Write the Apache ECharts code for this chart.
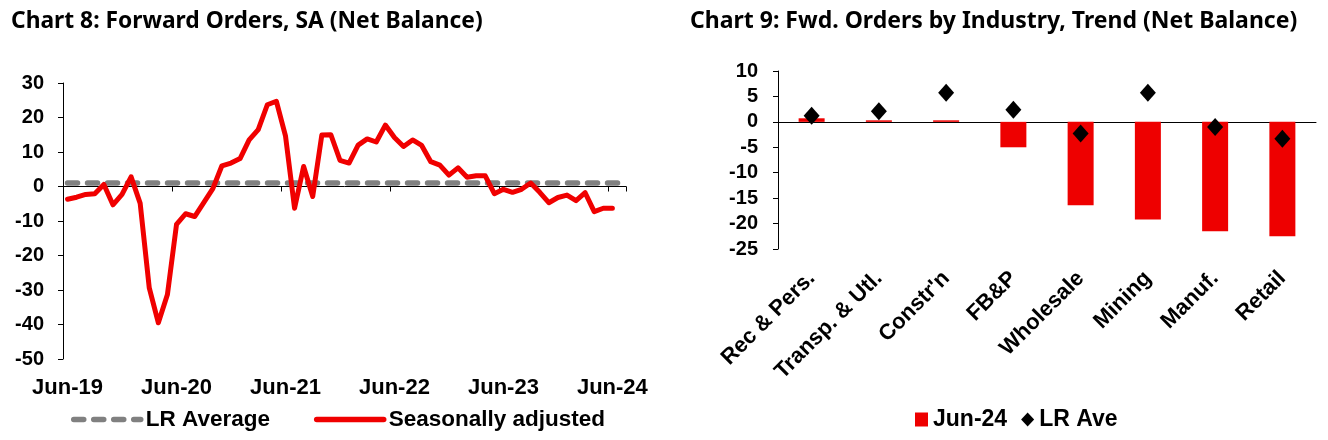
<!DOCTYPE html>
<html>
<head>
<meta charset="utf-8">
<script src="https://cdn.jsdelivr.net/npm/echarts@6/dist/echarts.min.js"></script>
<style>html,body{margin:0;padding:0;background:#fff;}#c{width:1328px;height:440px;}</style>
</head>
<body>
<div id="c"></div>
<script>
// ---- Chart 8 data ----
const monthNames = ['Jan','Feb','Mar','Apr','May','Jun','Jul','Aug','Sep','Oct','Nov','Dec'];
const startMonth = 5, startYear = 2019, monthCount = 62; // Jun-19 .. Jul-24 (last slot empty)
const months = [];
for (let k = 0; k < monthCount; k++) {
  const m = (startMonth + k) % 12, y = startYear + Math.floor((startMonth + k) / 12);
  months.push(monthNames[m] + '-' + String(y).slice(2));
}
const seasonallyAdjusted = [
  -3.7, -3.1, -2.3, -2.1, 0.6, -5.3, -2.3, 2.8, -4.9, -29.4,
  -39.5, -31.3, -11.0, -7.9, -8.7, -4.7, -0.6, 6.0, 6.8, 8.1,
  13.5, 16.5, 23.7, 24.7, 14.7, -6.3, 5.8, -2.9, 14.9, 15.0,
  7.6, 6.8, 12.0, 13.8, 12.9, 17.8, 14.2, 11.6, 13.5, 11.9,
  7.2, 6.2, 3.3, 5.4, 2.7, 3.1, 3.1, -2.1, -0.8, -1.7,
  -0.8, 1.0, -1.7, -4.7, -3.2, -2.5, -4.1, -1.8, -7.3, -6.3,
  -6.3
];
const lrAverageValue = 1.0;
const lrAverage = months.map(() => lrAverageValue);

// ---- Chart 9 data ----
const industries = ['Rec & Pers.', 'Transp. & Utl.', "Constr'n", 'FB&P', 'Wholesale', 'Mining', 'Manuf.', 'Retail'];
const jun24 = [0.7, 0.3, 0.3, -5.0, -16.4, -19.2, -21.5, -22.5];
const lrAve = [1.2, 2.1, 5.7, 2.4, -2.3, 5.7, -1.0, -3.3];

const FONT = 'Liberation Sans, Arial, sans-serif';
const TITLE_FONT = 'Noto Sans, Open Sans, sans-serif';
const lab = {color:'#000', fontFamily:FONT, fontWeight:'bold', fontSize:20};
const big = Object.assign({}, lab, {fontSize:22});

const chart = echarts.init(document.getElementById('c'), null, {renderer:'canvas'});
chart.setOption({
  animation: false,
  backgroundColor: '#fff',
  title: [
    {text:'Chart 8: Forward Orders, SA (Net Balance)', left:6, top:5,
     textStyle:{fontFamily:TITLE_FONT, fontWeight:'bold', fontSize:22.8, color:'#000'}},
    {text:'Chart 9: Fwd. Orders by Industry, Trend (Net Balance)', left:685, top:5,
     textStyle:{fontFamily:TITLE_FONT, fontWeight:'bold', fontSize:23, color:'#000'}}
  ],
  legend: [
    {left:66, top:403, itemGap:44, itemWidth:67, itemHeight:8,
     itemStyle:{opacity:0},
     lineStyle:{width:5.5, cap:'round'},
     textStyle:Object.assign({}, big, {fontSize:22.5}),
     data:['LR Average','Seasonally adjusted']},
    {left:910, top:403, itemGap:14, itemWidth:13, itemHeight:14,
     itemStyle:{opacity:1},
     textStyle:Object.assign({}, big, {fontSize:23}),
     data:[{name:'Jun-24', icon:'rect'}, {name:'LR Ave', icon:'diamond'}]}
  ],
  grid: [
    {left:63, top:83, width:563, height:276},
    {left:778, top:71, width:538, height:178}
  ],
  xAxis: [
    {type:'category', gridIndex:0, data:months, boundaryGap:true,
     axisLine:{onZero:true, lineStyle:{color:'#000', width:1}},
     axisTick:{show:true, interval:11, length:5, lineStyle:{color:'#000'}},
     axisLabel:{show:false}, splitLine:{show:false}},
    {type:'category', gridIndex:0, data:months, boundaryGap:true, position:'bottom',
     axisLine:{show:false, onZero:false}, axisTick:{show:false},
     axisLabel:Object.assign({}, big, {interval:11, margin:18}), splitLine:{show:false}},
    {type:'category', gridIndex:1, data:industries,
     axisLine:{onZero:true, lineStyle:{color:'#000', width:1}},
     axisTick:{show:false}, axisLabel:{show:false}, splitLine:{show:false}},
    {type:'category', gridIndex:1, data:industries, position:'bottom',
     axisLine:{show:false, onZero:false}, axisTick:{show:false},
     axisLabel:Object.assign({}, big, {interval:0, rotate:45, margin:26}), splitLine:{show:false}}
  ],
  yAxis: [
    {type:'value', gridIndex:0, min:-50, max:30, interval:10,
     axisLine:{show:true, lineStyle:{color:'#000'}},
     axisTick:{show:true, length:5, lineStyle:{color:'#000'}},
     axisLabel:Object.assign({}, lab, {margin:19}), splitLine:{show:false}},
    {type:'value', gridIndex:1, min:-25, max:10, interval:5,
     axisLine:{show:true, lineStyle:{color:'#000'}},
     axisTick:{show:true, length:5, lineStyle:{color:'#000'}},
     axisLabel:Object.assign({}, lab, {margin:20}), splitLine:{show:false}}
  ],
  series: [
    {name:'LR Average', type:'line', xAxisIndex:0, yAxisIndex:0, data:lrAverage,
     symbol:'none', z:2,
     lineStyle:{color:'#808080', width:5.5, type:[10,10], cap:'round'},
     itemStyle:{color:'#808080'}},
    {name:'Seasonally adjusted', type:'line', xAxisIndex:0, yAxisIndex:0, data:seasonallyAdjusted,
     symbol:'none', z:3,
     lineStyle:{color:'#f00000', width:5, join:'round', cap:'round'},
     itemStyle:{color:'#f00000'}},
    {name:'Jun-24', type:'bar', xAxisIndex:2, yAxisIndex:1, data:jun24, barWidth:26,
     itemStyle:{color:'#ee0000'}, z:2},
    {name:'LR Ave', type:'scatter', xAxisIndex:2, yAxisIndex:1, data:lrAve,
     symbol:'diamond', symbolSize:[16,18], itemStyle:{color:'#000', opacity:1}, z:4}
  ]
});
</script>
</body>
</html>
